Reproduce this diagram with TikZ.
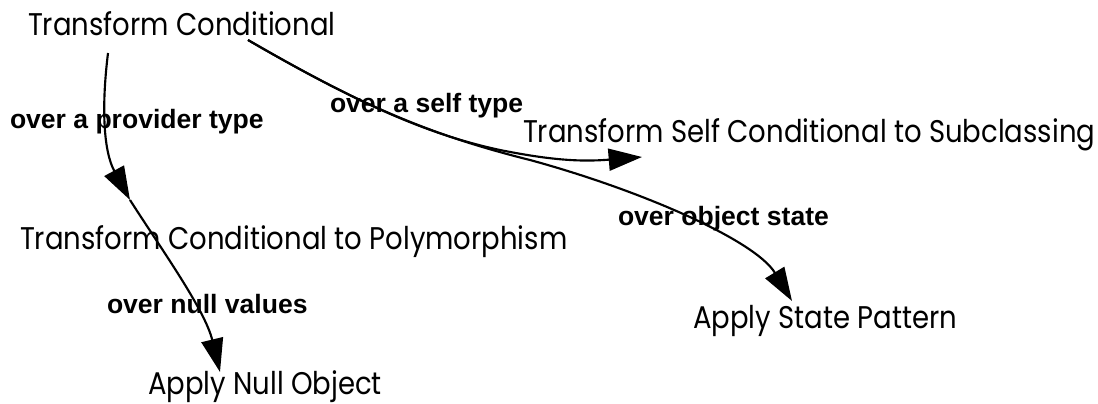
\documentclass[tikz,border=0pt]{standalone}
\usepackage{fontspec}
\setmainfont{Poppins}[FakeStretch=0.878]
\newfontfamily\labelfont{Liberation Sans}
\usetikzlibrary{arrows.meta}

\tikzset{
  pattern/.style={inner sep=0pt, outer sep=0pt, anchor=base west,
    font=\fontsize{23.5}{28}\selectfont},
  cond/.style={inner sep=0pt, outer sep=0pt, anchor=base west,
    font=\labelfont\bfseries\fontsize{19.9}{24}\selectfont},
  link/.style={line width=1.6pt,
    -{Triangle[length=25pt,width=16.5pt]}},
}

\begin{document}
\begin{tikzpicture}[x=0.75pt,y=-0.75pt]
\useasboundingbox (0,0) rectangle (1098,403);

% refactorings
\node[pattern] (tc)   at (28,36)   {Transform Conditional};
\node[pattern] (tscs) at (523,142) {Transform Self Conditional to Subclassing};
\node[pattern] (tcp)  at (20,249)  {Transform Conditional to Polymorphism};
\node[pattern] (ano)  at (148,394) {Apply Null Object};
\node[pattern] (asp)  at (693,328) {Apply State Pattern};

% conditions
\node[cond] (c1) at (10,128)  {over a provider type};
\node[cond] (c2) at (330,113) {over a self type};
\node[cond] (c3) at (618,225) {over object state};
\node[cond] (c4) at (107,313) {over null values};

% links between refactorings
\draw[link] ([shift={(80,17)}]tc.base west)
  .. controls (101,110) and (104,152) .. ([shift={(110,-49)}]tcp.base west);
\draw[link] ([shift={(110,-49)}]tcp.base west)
  .. controls (162,250) and (205,310) .. ([shift={(72,-22)}]ano.base west);
\draw[link] ([shift={(220,4)}]tc.base west)
  .. controls (360,105) and (430,135) .. (500,150)
  .. controls (550,160) and (580,162) .. ([shift={(119,15)}]tscs.base west);
\draw[link] ([shift={(220,4)}]tc.base west)
  .. controls (360,105) and (430,135) .. (530,160)
  .. controls (640,190) and (755,240) .. ([shift={(99,-27)}]asp.base west);
\end{tikzpicture}
\end{document}
